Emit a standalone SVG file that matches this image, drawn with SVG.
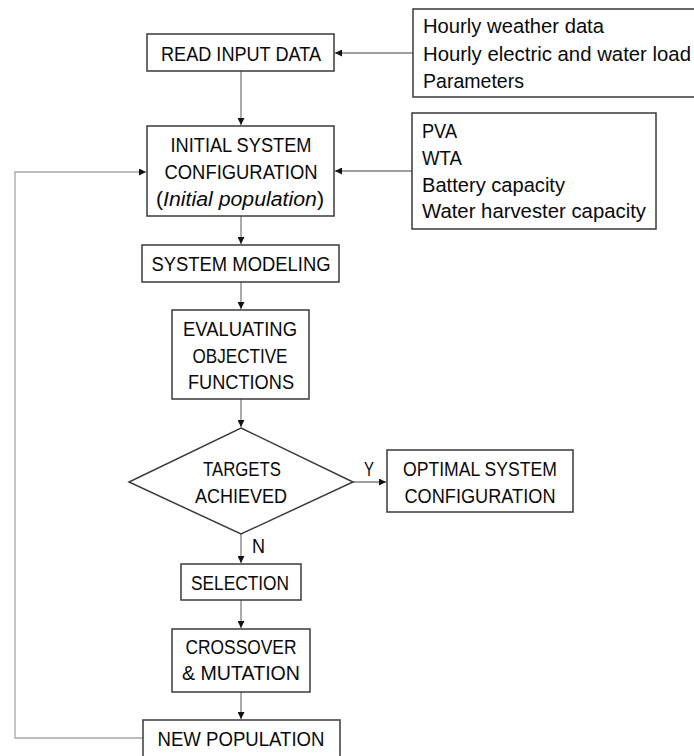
<svg xmlns="http://www.w3.org/2000/svg" width="694" height="756" viewBox="0 0 694 756">
<style>
.box{fill:#fff;stroke:#3a3a3a;stroke-width:1.5}
.t{font-family:"Liberation Sans",Arial,sans-serif;font-size:20.5px;fill:#0a0a0a}
.c{text-anchor:middle}
.con{fill:none;stroke:#7f7f7f;stroke-width:1.3}
.loop{fill:none;stroke:#a8a8a8;stroke-width:1.3}
</style>
<defs>
<marker id="ah" viewBox="0 0 10 10" refX="10" refY="5" markerWidth="8" markerHeight="7" markerUnits="userSpaceOnUse" orient="auto">
<path d="M0,0 L10,5 L0,10 z" fill="#111"/>
</marker>
</defs>
<g id="connectors">
<line class="con" x1="413" y1="53" x2="335" y2="53" marker-end="url(#ah)"/>
<line class="con" x1="241" y1="71" x2="241" y2="125" marker-end="url(#ah)"/>
<line class="con" x1="412" y1="171" x2="335" y2="171" marker-end="url(#ah)"/>
<polyline class="loop" points="143,738 15,738 15,172 146,172" marker-end="url(#ah)"/>
<line class="con" x1="241" y1="216" x2="241" y2="244" marker-end="url(#ah)"/>
<line class="con" x1="241" y1="282" x2="241" y2="309" marker-end="url(#ah)"/>
<line class="con" x1="241" y1="399" x2="241" y2="427" marker-end="url(#ah)"/>
<line class="con" x1="353" y1="482" x2="386" y2="482" marker-end="url(#ah)"/>
<line class="con" x1="241" y1="534" x2="241" y2="563" marker-end="url(#ah)"/>
<line class="con" x1="241" y1="600" x2="241" y2="628" marker-end="url(#ah)"/>
<line class="con" x1="241" y1="692" x2="241" y2="719" marker-end="url(#ah)"/>
<text class="t" x="364" y="476" textLength="10" lengthAdjust="spacingAndGlyphs">Y</text>
<text class="t" x="252" y="553" textLength="13" lengthAdjust="spacingAndGlyphs">N</text>
</g>
<g id="inputs1">
<rect class="box" x="413" y="9" width="290" height="88"/>
<text class="t" x="423" y="33" textLength="181" lengthAdjust="spacingAndGlyphs">Hourly weather data</text>
<text class="t" x="423" y="61" textLength="268" lengthAdjust="spacingAndGlyphs">Hourly electric and water load</text>
<text class="t" x="423" y="88" textLength="101" lengthAdjust="spacingAndGlyphs">Parameters</text>
</g>
<g id="read">
<rect class="box" x="147" y="34" width="187" height="37"/>
<text class="t c" x="241" y="61" textLength="160" lengthAdjust="spacingAndGlyphs">READ INPUT DATA</text>
</g>
<g id="init">
<rect class="box" x="147" y="126" width="187" height="90"/>
<text class="t c" x="241" y="152" textLength="141" lengthAdjust="spacingAndGlyphs">INITIAL SYSTEM</text>
<text class="t c" x="241" y="179" textLength="153" lengthAdjust="spacingAndGlyphs">CONFIGURATION</text>
<text class="t c" x="240" y="206" textLength="168" lengthAdjust="spacingAndGlyphs">(<tspan font-style="italic">Initial population</tspan>)</text>
</g>
<g id="inputs2">
<rect class="box" x="412" y="113" width="244" height="116"/>
<text class="t" x="422" y="138" textLength="35" lengthAdjust="spacingAndGlyphs">PVA</text>
<text class="t" x="422" y="165" textLength="40" lengthAdjust="spacingAndGlyphs">WTA</text>
<text class="t" x="422" y="192" textLength="143" lengthAdjust="spacingAndGlyphs">Battery capacity</text>
<text class="t" x="422" y="218" textLength="224" lengthAdjust="spacingAndGlyphs">Water harvester capacity</text>
</g>
<g id="modeling">
<rect class="box" x="142" y="245" width="197" height="37"/>
<text class="t c" x="241" y="271" textLength="179" lengthAdjust="spacingAndGlyphs">SYSTEM MODELING</text>
</g>
<g id="evaluating">
<rect class="box" x="172" y="310" width="137" height="89"/>
<text class="t c" x="240" y="336" textLength="114" lengthAdjust="spacingAndGlyphs">EVALUATING</text>
<text class="t c" x="240" y="363" textLength="95" lengthAdjust="spacingAndGlyphs">OBJECTIVE</text>
<text class="t c" x="241" y="389" textLength="106" lengthAdjust="spacingAndGlyphs">FUNCTIONS</text>
</g>
<g id="decision">
<polygon class="box" points="241,428 353,482 241,534 129,482"/>
<text class="t c" x="242" y="476" textLength="78" lengthAdjust="spacingAndGlyphs">TARGETS</text>
<text class="t c" x="241" y="503" textLength="92" lengthAdjust="spacingAndGlyphs">ACHIEVED</text>
</g>
<g id="optimal">
<rect class="box" x="387" y="450" width="186" height="62"/>
<text class="t c" x="480" y="476" textLength="154" lengthAdjust="spacingAndGlyphs">OPTIMAL SYSTEM</text>
<text class="t c" x="480" y="503" textLength="151" lengthAdjust="spacingAndGlyphs">CONFIGURATION</text>
</g>
<g id="selection">
<rect class="box" x="181" y="564" width="120" height="36"/>
<text class="t c" x="240" y="590" textLength="98" lengthAdjust="spacingAndGlyphs">SELECTION</text>
</g>
<g id="crossover">
<rect class="box" x="172" y="629" width="138" height="63"/>
<text class="t c" x="241" y="654" textLength="111" lengthAdjust="spacingAndGlyphs">CROSSOVER</text>
<text class="t c" x="241" y="680" textLength="118" lengthAdjust="spacingAndGlyphs">&amp; MUTATION</text>
</g>
<g id="newpop">
<rect class="box" x="143" y="720" width="197" height="40"/>
<text class="t c" x="241" y="746" textLength="167" lengthAdjust="spacingAndGlyphs">NEW POPULATION</text>
</g>
</svg>
